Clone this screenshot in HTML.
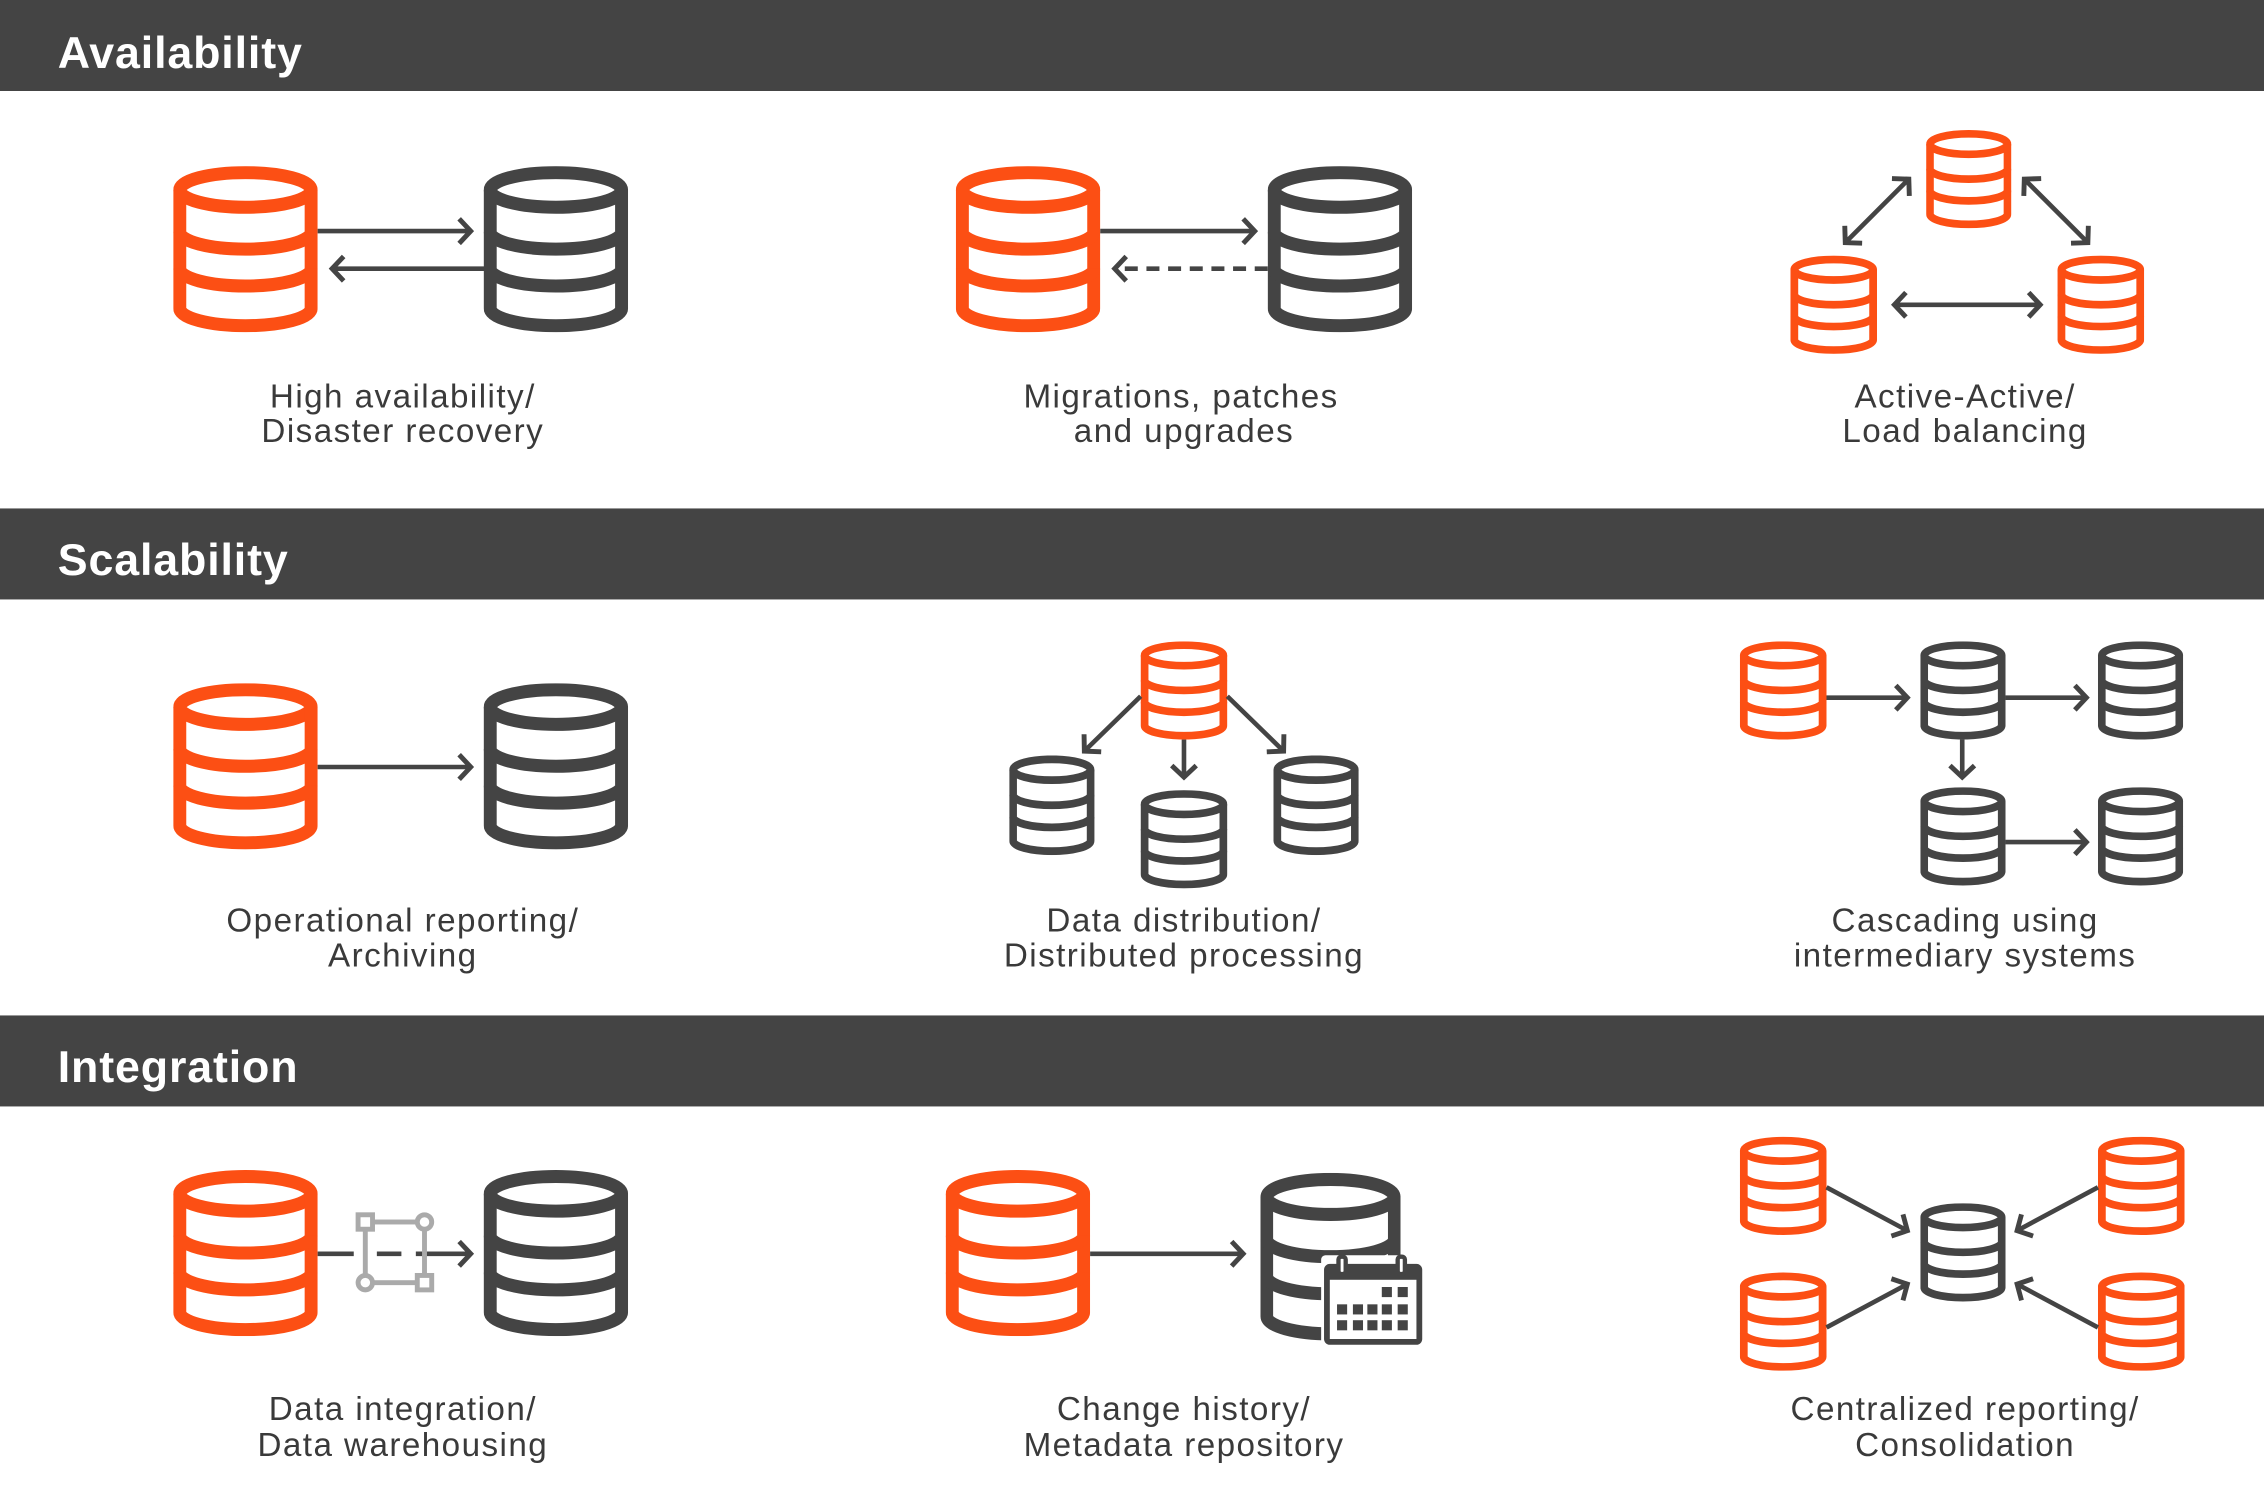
<!DOCTYPE html>
<html><head><meta charset="utf-8"><style>
html,body{margin:0;padding:0;background:#fff}
svg{display:block}
text{font-family:"Liberation Sans",sans-serif}
.lbl{font-size:23px;fill:#3a3a3a;text-anchor:middle;letter-spacing:1px}
.hd{font-size:31px;fill:#fff;font-weight:bold;letter-spacing:0.6px}
.ar{stroke:#444;stroke-width:3.2;fill:none}
</style></head><body>
<svg width="2264" height="1508" viewBox="0 0 1568 1044" preserveAspectRatio="none" xmlns="http://www.w3.org/2000/svg">
<defs>
<symbol id="dbo" viewBox="0 0 100 115" preserveAspectRatio="none">
<g fill="none" stroke="#fc4f14" stroke-width="9">
<ellipse cx="50" cy="16.5" rx="45.5" ry="12"/>
<path d="M4.5 16.5 V98.5 A45.5 12 0 0 0 95.5 98.5 V16.5"/>
<path d="M4.5 45.5 A45.5 12 0 0 0 95.5 45.5"/>
<path d="M4.5 71 A45.5 12 0 0 0 95.5 71"/>
</g></symbol>
<symbol id="dbd" viewBox="0 0 100 115" preserveAspectRatio="none">
<g fill="none" stroke="#444" stroke-width="9">
<ellipse cx="50" cy="16.5" rx="45.5" ry="12"/>
<path d="M4.5 16.5 V98.5 A45.5 12 0 0 0 95.5 98.5 V16.5"/>
<path d="M4.5 45.5 A45.5 12 0 0 0 95.5 45.5"/>
<path d="M4.5 71 A45.5 12 0 0 0 95.5 71"/>
</g></symbol>
<marker id="ah" markerUnits="userSpaceOnUse" markerWidth="20" markerHeight="24" refX="10" refY="10" orient="auto-start-reverse" viewBox="0 0 20 20">
<path d="M2 1.5 L10 10 L2 18.5" fill="none" stroke="#444" stroke-width="3.4"/>
</marker>
</defs>

<rect x="0" y="0" width="1568" height="63" fill="#444"/>
<text class="hd" x="40" y="47">Availability</text>
<rect x="0" y="352" width="1568" height="63" fill="#444"/>
<text class="hd" x="40" y="398">Scalability</text>
<rect x="0" y="703" width="1568" height="63" fill="#444"/>
<text class="hd" x="40" y="749">Integration</text>

<use href="#dbo" x="120" y="115" width="100" height="115"/>
<use href="#dbd" x="335" y="115" width="100" height="115"/>
<line class="ar" x1="220" y1="160" x2="326" y2="160" marker-end="url(#ah)"/>
<line class="ar" x1="337" y1="186" x2="230" y2="186" marker-end="url(#ah)"/>
<text class="lbl" x="279" y="282">High availability/</text>
<text class="lbl" x="279" y="306">Disaster recovery</text>

<use href="#dbo" x="662" y="115" width="100" height="115"/>
<use href="#dbd" x="878" y="115" width="100" height="115"/>
<line class="ar" x1="762" y1="160" x2="869" y2="160" marker-end="url(#ah)"/>
<line class="ar" x1="878" y1="186" x2="772" y2="186" stroke-dasharray="9,6" marker-end="url(#ah)"/>
<text class="lbl" x="818" y="282">Migrations, patches</text>
<text class="lbl" x="820" y="306">and upgrades</text>

<use href="#dbo" x="1334" y="90" width="59" height="68"/>
<use href="#dbo" x="1240" y="177" width="60" height="68"/>
<use href="#dbo" x="1425" y="177" width="60" height="68"/>
<line class="ar" x1="1278" y1="168" x2="1322" y2="124" marker-start="url(#ah)" marker-end="url(#ah)"/>
<line class="ar" x1="1402" y1="124" x2="1446" y2="168" marker-start="url(#ah)" marker-end="url(#ah)"/>
<line class="ar" x1="1312" y1="211" x2="1413" y2="211" marker-start="url(#ah)" marker-end="url(#ah)"/>
<text class="lbl" x="1361" y="282">Active-Active/</text>
<text class="lbl" x="1361" y="306">Load balancing</text>

<use href="#dbo" x="120" y="473" width="100" height="115"/>
<use href="#dbd" x="335" y="473" width="100" height="115"/>
<line class="ar" x1="220" y1="531" x2="326" y2="531" marker-end="url(#ah)"/>
<text class="lbl" x="279" y="645">Operational reporting/</text>
<text class="lbl" x="279" y="669">Archiving</text>

<use href="#dbo" x="790" y="444" width="60" height="68"/>
<use href="#dbd" x="699" y="523" width="59" height="69"/>
<use href="#dbd" x="790" y="547" width="60" height="68"/>
<use href="#dbd" x="882" y="523" width="59" height="69"/>
<line class="ar" x1="790" y1="482" x2="751" y2="520" marker-end="url(#ah)"/>
<line class="ar" x1="820" y1="512" x2="820" y2="538" marker-end="url(#ah)"/>
<line class="ar" x1="850" y1="482" x2="889" y2="520" marker-end="url(#ah)"/>
<text class="lbl" x="820" y="645">Data distribution/</text>
<text class="lbl" x="820" y="669">Distributed processing</text>

<use href="#dbo" x="1205" y="444" width="60" height="68"/>
<use href="#dbd" x="1330" y="444" width="59" height="68"/>
<use href="#dbd" x="1453" y="444" width="59" height="68"/>
<use href="#dbd" x="1330" y="545" width="59" height="68"/>
<use href="#dbd" x="1453" y="545" width="59" height="68"/>
<line class="ar" x1="1265" y1="483" x2="1321" y2="483" marker-end="url(#ah)"/>
<line class="ar" x1="1389" y1="483" x2="1445" y2="483" marker-end="url(#ah)"/>
<line class="ar" x1="1359" y1="512" x2="1359" y2="538" marker-end="url(#ah)"/>
<line class="ar" x1="1389" y1="583" x2="1445" y2="583" marker-end="url(#ah)"/>
<text class="lbl" x="1361" y="645">Cascading using</text>
<text class="lbl" x="1361" y="669">intermediary systems</text>

<use href="#dbo" x="120" y="810" width="100" height="115"/>
<use href="#dbd" x="335" y="810" width="100" height="115"/>
<line class="ar" x1="220" y1="868" x2="245" y2="868"/>
<line class="ar" x1="261" y1="868" x2="278" y2="868"/>
<line class="ar" x1="288" y1="868" x2="326" y2="868" marker-end="url(#ah)"/>
<g stroke="#aaa" stroke-width="3.4" fill="#fff">
<rect x="253" y="846" width="41" height="42" fill="none"/>
<rect x="248" y="841" width="10" height="10"/>
<rect x="289" y="883" width="10" height="10"/>
<circle cx="294" cy="846" r="5"/>
<circle cx="253" cy="888" r="5"/>
</g>
<text class="lbl" x="279" y="983">Data integration/</text>
<text class="lbl" x="279" y="1008">Data warehousing</text>

<use href="#dbo" x="655" y="810" width="100" height="115"/>
<use href="#dbd" x="873" y="812" width="97" height="116"/>
<line class="ar" x1="755" y1="868" x2="861" y2="868" marker-end="url(#ah)"/>
<g>
<rect x="915" y="869" width="72" height="64" rx="3" fill="#fff"/>
<rect x="919" y="877" width="64" height="52" rx="2" fill="#fff" stroke="#444" stroke-width="4"/>
<rect x="919" y="877" width="64" height="9" fill="#444"/>
<rect x="927" y="870" width="5" height="12" rx="2" fill="#fff" stroke="#444" stroke-width="3"/>
<rect x="968" y="870" width="5" height="12" rx="2" fill="#fff" stroke="#444" stroke-width="3"/>
<g fill="#444">
<rect x="957" y="891" width="7" height="7"/><rect x="968" y="891" width="7" height="7"/>
<rect x="926" y="903" width="7" height="7"/><rect x="937" y="903" width="7" height="7"/><rect x="947" y="903" width="7" height="7"/><rect x="957" y="903" width="7" height="7"/><rect x="968" y="903" width="7" height="7"/>
<rect x="926" y="914" width="7" height="7"/><rect x="937" y="914" width="7" height="7"/><rect x="947" y="914" width="7" height="7"/><rect x="957" y="914" width="7" height="7"/><rect x="968" y="914" width="7" height="7"/>
</g>
</g>
<text class="lbl" x="820" y="983">Change history/</text>
<text class="lbl" x="820" y="1008">Metadata repository</text>

<use href="#dbo" x="1205" y="787" width="60" height="68"/>
<use href="#dbo" x="1453" y="787" width="60" height="68"/>
<use href="#dbo" x="1205" y="881" width="60" height="68"/>
<use href="#dbo" x="1453" y="881" width="60" height="68"/>
<use href="#dbd" x="1330" y="833" width="59" height="68"/>
<line class="ar" x1="1265" y1="822" x2="1321" y2="852" marker-end="url(#ah)"/>
<line class="ar" x1="1453" y1="822" x2="1397" y2="852" marker-end="url(#ah)"/>
<line class="ar" x1="1265" y1="919" x2="1321" y2="889" marker-end="url(#ah)"/>
<line class="ar" x1="1453" y1="919" x2="1397" y2="889" marker-end="url(#ah)"/>
<text class="lbl" x="1361" y="983">Centralized reporting/</text>
<text class="lbl" x="1361" y="1008">Consolidation</text>
</svg>
</body></html>
